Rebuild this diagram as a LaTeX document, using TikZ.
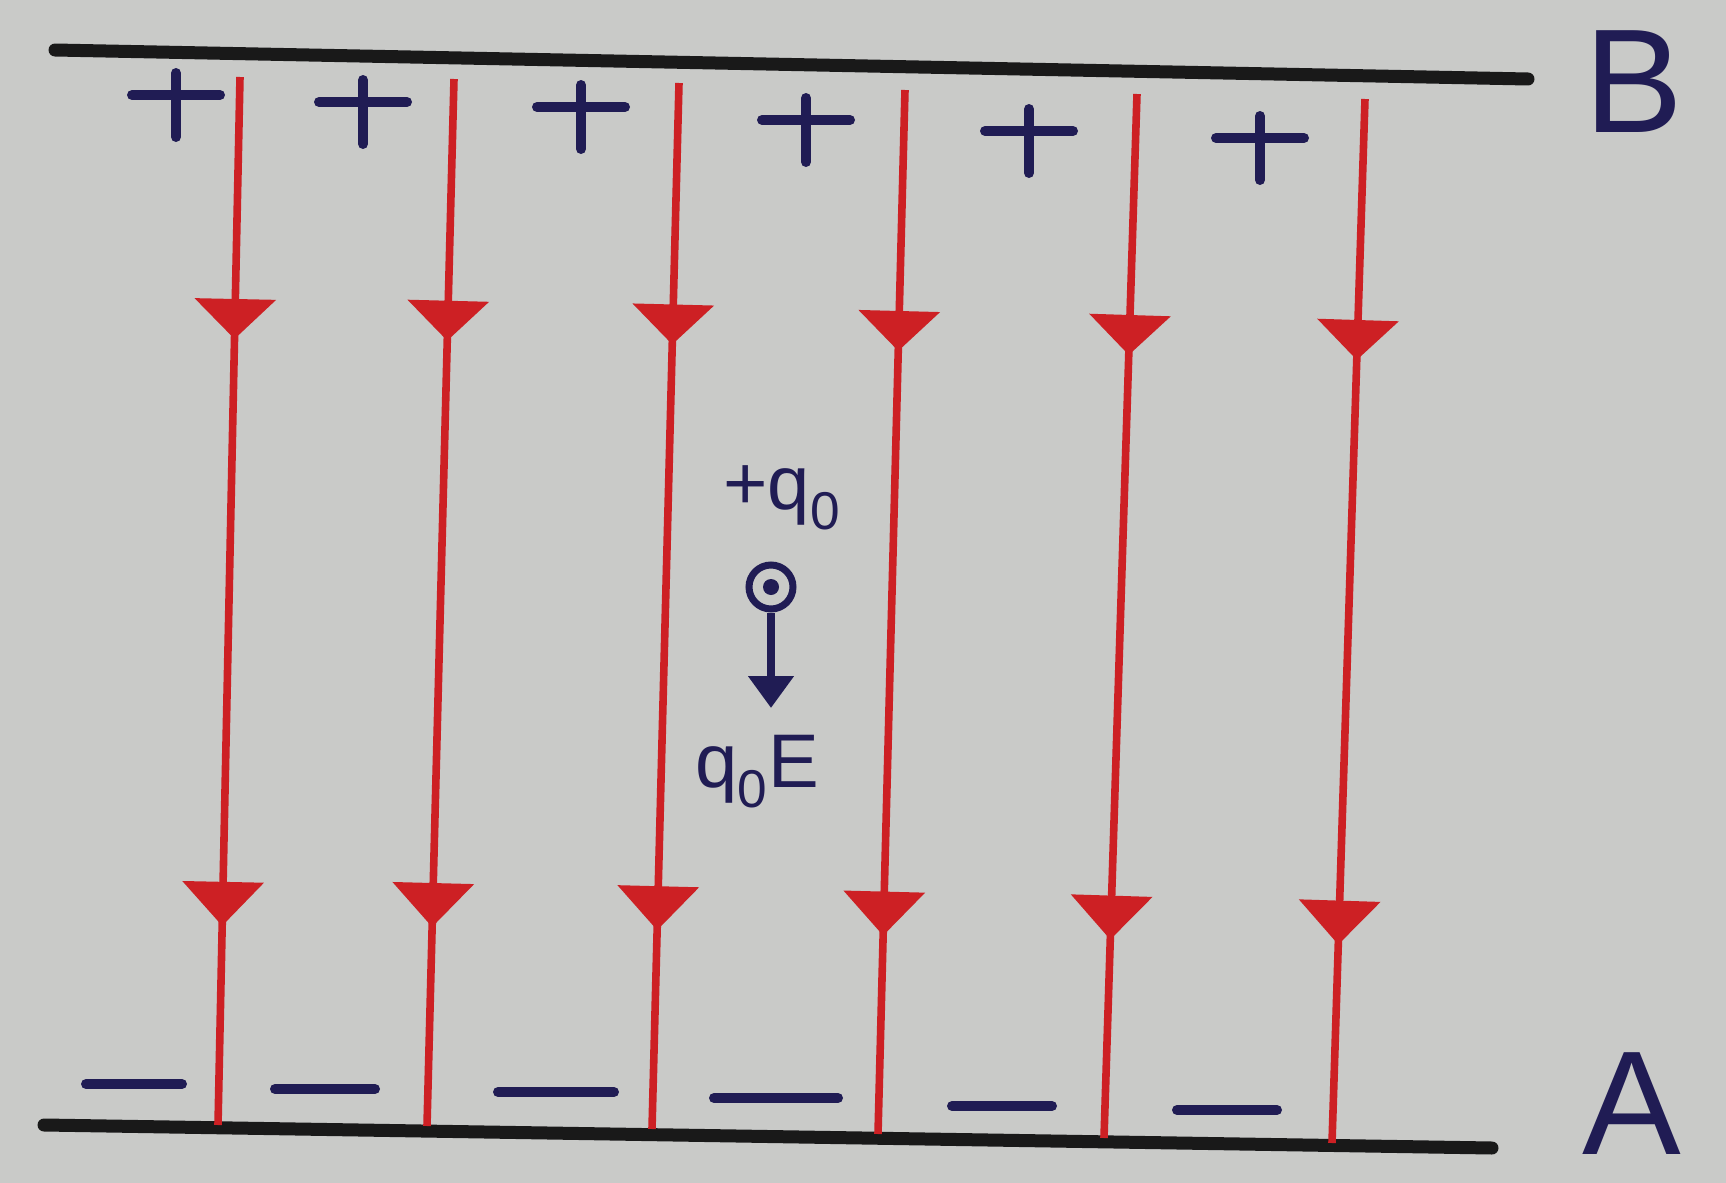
\documentclass[tikz,border=0pt]{standalone}
\usepackage{fontspec}
\setsansfont{Liberation Sans}
\usetikzlibrary{arrows.meta,decorations.markings}
\definecolor{paper}{RGB}{201,202,200}
\definecolor{fieldred}{RGB}{205,32,36}
\definecolor{inkblue}{RGB}{32,28,84}
\tikzset{
	plate/.style={line width=6.5pt, black!90, line cap=round},
	fieldline/.style={fieldred, line width=3.8pt, postaction={decorate},
		decoration={markings,
			mark=at position 0.25 with {\arrow{Triangle[width=40pt,length=20pt]}},
			mark=at position 0.81 with {\arrow{Triangle[width=40pt,length=22pt]}}}},
	sign/.style={inkblue, line width=5pt, line cap=round},
	lbl/.style={inkblue, inner sep=0pt, font=\sffamily\fontsize{38}{40}\selectfont},
	platelbl/.style={lbl, font=\sffamily\fontsize{74}{78}\selectfont},
	charge/.style={circle, draw=inkblue, line width=3.5pt, minimum size=22pt, inner sep=0pt},
}
\begin{document}
\begin{tikzpicture}[x=0.5pt,y=0.5pt,yscale=-1]
	\fill[paper] (0,0) rectangle (1726,1183);
	\useasboundingbox (0,0) rectangle (1726,1183);
	\coordinate (B1) at (55,50);
	\coordinate (B2) at (1528,79);
	\coordinate (A1) at (44,1125);
	\coordinate (A2) at (1492,1148);
	\draw[plate] (B1) -- (B2);
	\draw[plate] (A1) -- (A2);
	\foreach \xt/\yt/\xb/\yb [count=\i] in {240/77/218/1125, 454/79/427/1126, 679/83/652/1129, 905/90/878/1134, 1137/94/1104/1138, 1365/99/1332/1143}
	{
		\coordinate (t\i) at (\xt,\yt);
		\coordinate (b\i) at (\xb,\yb);
		\draw[fieldline] (t\i) -- (b\i);
	}
	\foreach \x/\y in {176/95, 363/102, 581/107, 806/120, 1029/131, 1260/138}
		\draw[sign] (\x-44,\y) -- (\x+44,\y) (\x,\y-22) -- (\x,\y+42);
	\foreach \x/\y/\w in {134/1084/48, 325/1089/50, 556/1092/58, 776/1098/62, 1002/1106/50, 1227/1110/50}
		\draw[sign] (\x-\w,\y) -- (\x+\w,\y);
	\node[platelbl] (labB) at (1634,82) {B};
	\node[platelbl] (labA) at (1632,1104) {A};
	\node[lbl] (qlab) at (782,498) {+q\textsubscript{0}};
	\node[charge] (q) at (771,587) {};
	\fill[inkblue] (q.center) circle (4pt);
	\coordinate (f) at (771,708);
	\draw[inkblue, line width=4pt, -{Triangle[width=22pt,length=16pt]}] (q) -- (f);
	\node[lbl] (flab) at (757,772) {q\textsubscript{0}E};
\end{tikzpicture}
\end{document}
